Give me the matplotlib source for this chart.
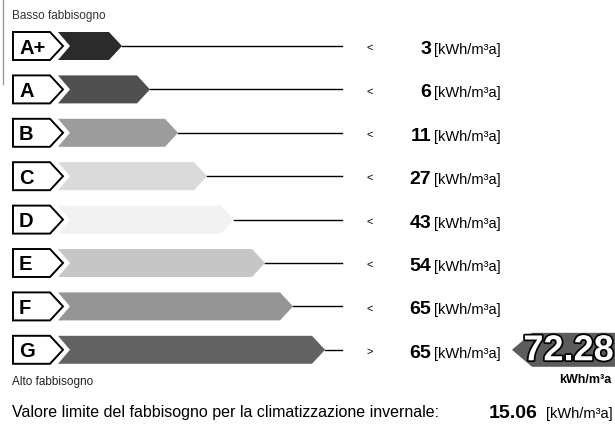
import matplotlib.pyplot as plt
import matplotlib.patheffects as pe
from matplotlib.patches import Polygon

plt.rcParams['font.family'] = ['Liberation Sans', 'DejaVu Sans']

classes = ['A+', 'A', 'B', 'C', 'D', 'E', 'F', 'G']
limits = [3, 6, 11, 27, 43, 54, 65, 65]
signs = ['<', '<', '<', '<', '<', '<', '<', '>']
bar_end = [122, 150, 178, 207, 234, 265, 293, 325]
bar_colors = ['#2b2b2b', '#505050', '#9c9c9c', '#dadada', '#f2f2f2', '#c6c6c6', '#959595', '#626262']
result = 72.28
limit_value = 15.06

fig = plt.figure(figsize=(6.15, 4.31), dpi=100)
ax = fig.add_axes([0, 0, 1, 1])
ax.set_xlim(0, 615)
ax.set_ylim(431, 0)
ax.axis('off')

row_y = [47 + i * 43.4 for i in range(len(classes))]
h = 14  # half height of a row

# scan edge on the left
ax.plot([3, 3], [0, 85], color='#9a9a9a', lw=1)

for cls, lim, s, end, col, y in zip(classes, limits, signs, bar_end, bar_colors, row_y):
    # label box with arrow tip
    box = Polygon([(13, y - h), (50, y - h), (63, y), (50, y + h), (13, y + h)],
                  closed=True, facecolor='white', edgecolor='black', lw=1.4)
    ax.add_patch(box)
    ax.text(19, y + 1, cls, fontsize=14.5, fontweight='bold', ha='left', va='center')
    # class bar (notched left, pointed right)
    bar = Polygon([(58, y - h), (end - 13, y - h), (end, y), (end - 13, y + h),
                   (58, y + h), (70, y)],
                  closed=True, facecolor=col, edgecolor='none')
    ax.add_patch(bar)
    ax.plot([end, 342], [y, y], color='black', lw=1)
    ax.text(370, y + 1, s, fontsize=8, ha='center', va='center')
    ax.text(431, y + 7, str(lim), fontsize=14, fontweight='bold', ha='right', va='baseline')
    ax.text(434, y + 7, '[kWh/m³a]', fontsize=10.5, ha='left', va='baseline')

ax.text(12, 16, 'Basso fabbisogno', fontsize=8.5, ha='left', va='center', color='#333333')
ax.text(12, 382, 'Alto fabbisogno', fontsize=8.5, ha='left', va='center', color='#222222')

# arrow with the computed value on the G row
gy = row_y[-1]
arrow = Polygon([(512, gy), (532, gy - 17), (615, gy - 17), (615, gy + 17), (532, gy + 17)],
                closed=True, facecolor='#5c5c5c', edgecolor='none')
ax.add_patch(arrow)
t = ax.text(614, gy + 1, f'{result:.2f}', fontsize=26, fontweight='bold', ha='right',
            va='center', color='white')
t.set_path_effects([pe.withStroke(linewidth=2.5, foreground='black')])
ax.text(611, 380, 'kWh/m³a', fontsize=9, fontweight='bold', ha='right', va='center')

ax.text(12, 417, 'Valore limite del fabbisogno per la climatizzazione invernale:',
        fontsize=11.5, ha='left', va='baseline')
ax.text(489, 418, f'{limit_value:.2f}', fontsize=14, fontweight='bold', ha='left', va='baseline')
ax.text(546, 418, '[kWh/m³a]', fontsize=10.5, ha='left', va='baseline')

fig.savefig('out.png', dpi=100)
